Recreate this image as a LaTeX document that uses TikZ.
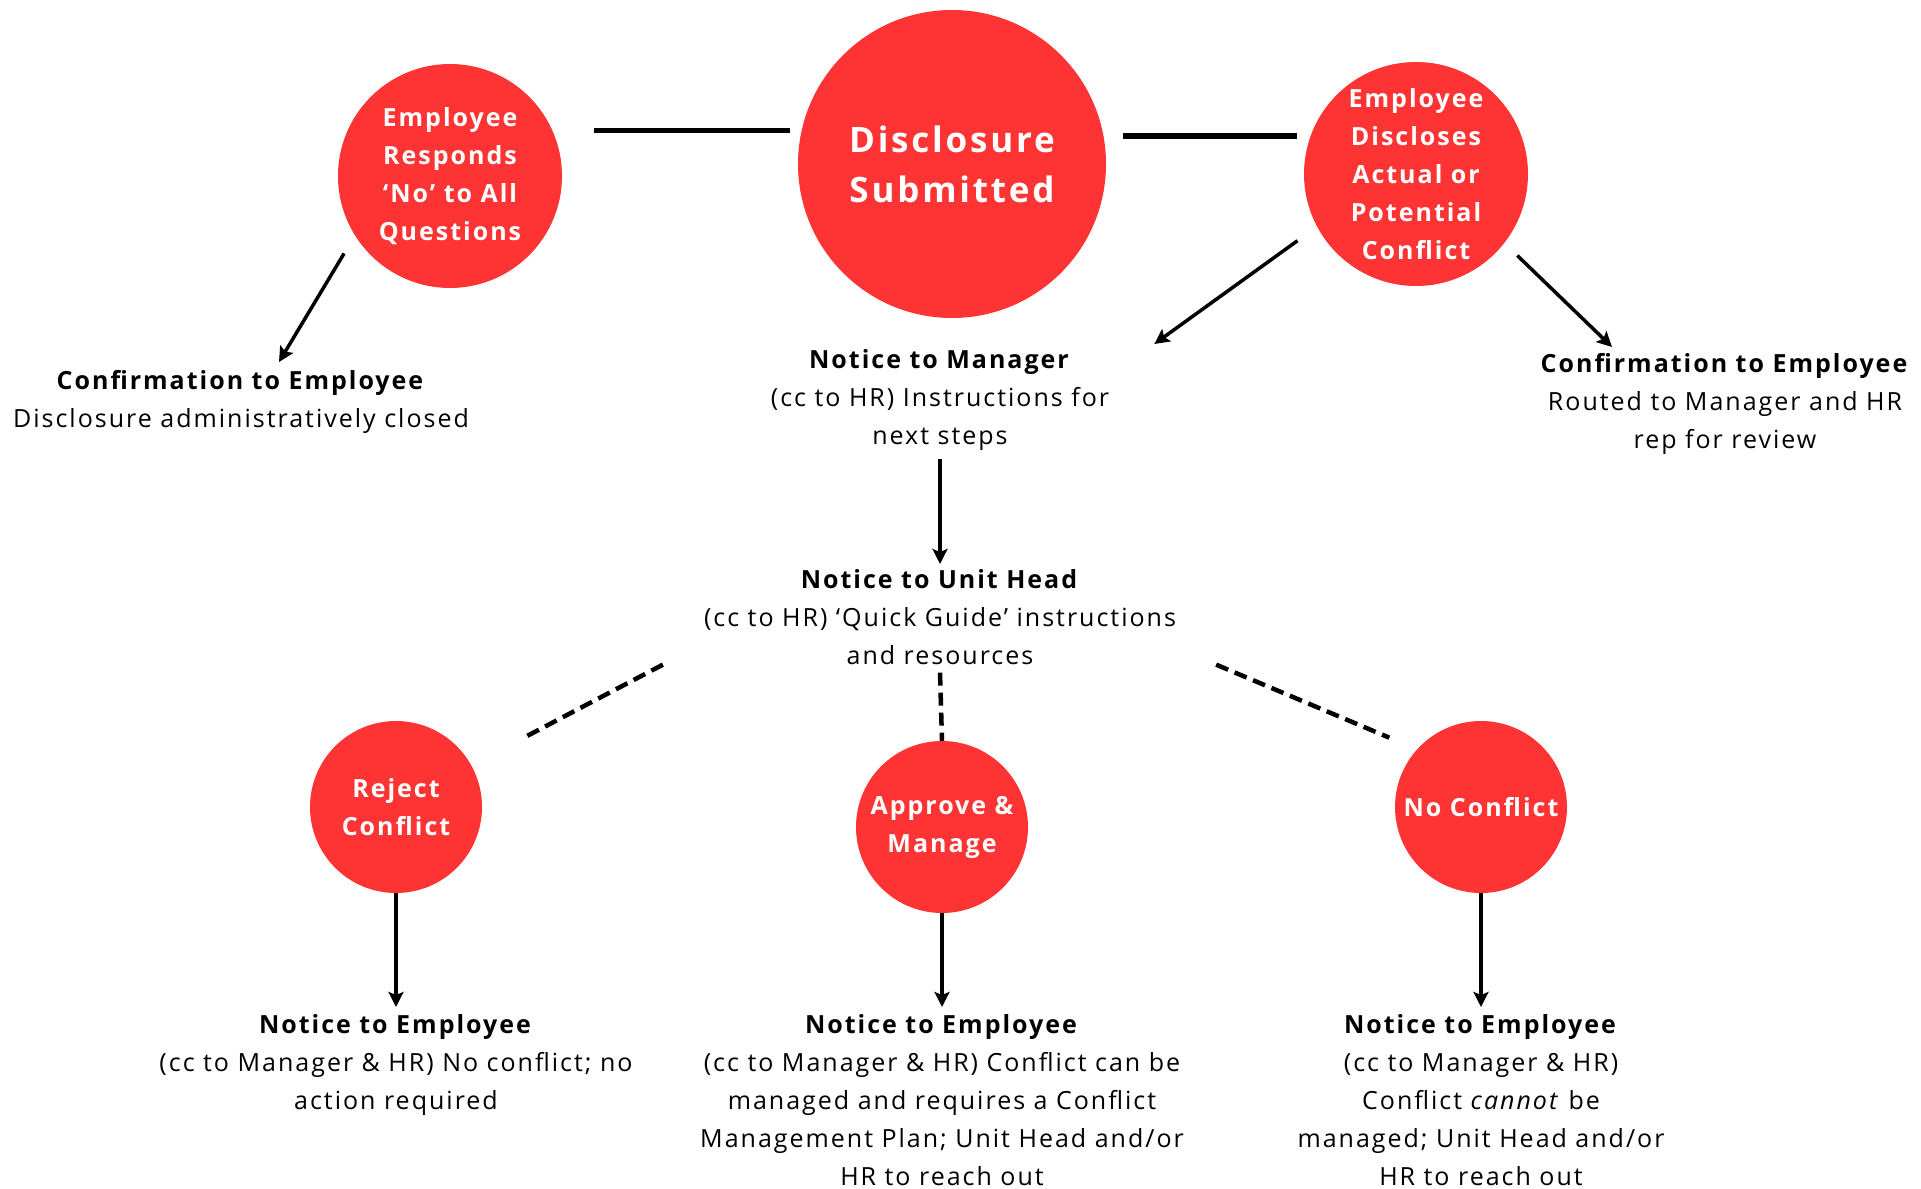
\documentclass[tikz,border=0pt]{standalone}
\usepackage{fontspec}
\setmainfont[LetterSpace=8]{Open Sans}
\usetikzlibrary{arrows.meta}
\definecolor{circred}{RGB}{254,52,52}
\tikzset{
    redball/.style={
        circle, fill=circred, draw=none, inner sep=0pt,
        text=white, align=center,
        font=\fontsize{25}{38}\selectfont\bfseries,
        minimum size=#1
    },
    redball/.default=172pt,
    notice/.style={align=center, inner sep=0pt, anchor=north, font=\fontsize{25}{38}\selectfont},
    arr/.style={line width=3.5pt, -{Stealth[length=15pt,width=15pt,inset=3pt]}},
    link/.style={line width=5pt},
    dashlink/.style={line width=4.5pt, dash pattern=on 13pt off 7pt}
}
\newcommand{\noticeText}[5] {
	\node[notice] (#1) at (#2,#3) {\textbf{#4}\\#5};
}

\begin{document}
\begin{tikzpicture}[x=1pt,y=-1pt]
		\useasboundingbox (0,0) rectangle (1921,1188);

		% Top row
		\node[redball=308pt, font=\fontsize{35}{50}\selectfont\bfseries] (disc) at (952,164) {Disclosure\\Submitted};
		\node[redball=224pt] (resp) at (450,176) {Employee\\Responds\\‘No’ to All\\Questions};
		\node[redball=224pt] (discl) at (1416,174) {Employee\\Discloses\\Actual or\\Potential\\Conflict};

		\draw[link] ([xshift=32pt,yshift=45pt]resp.east) -- ([xshift=-8pt,yshift=33pt]disc.west);
		\draw[link] ([xshift=17pt,yshift=28pt]disc.east) -- ([xshift=-7pt,yshift=38pt]discl.west);

		\noticeText{confA}{241}{370}{Confirmation to Employee}{Disclosure administratively closed}
		\noticeText{mgr}{940}{349}{Notice to Manager}{(cc to HR) Instructions for\\next steps}
		\noticeText{confB}{1725}{353}{Confirmation to Employee}{Routed to Manager and HR\\rep for review}

		\draw[arr, shorten <=21pt] (resp.212) -- ([xshift=38pt,yshift=8pt]confA.north);
		\draw[arr, shorten <=24pt] (discl.208) -- ([xshift=45pt,yshift=5pt]mgr.north east);
		\draw[arr, shorten <=18pt] (discl.322) -- ([xshift=-113pt,yshift=6pt]confB.north);

		% Unit head
		\noticeText{unit}{940}{569}{Notice to Unit Head}{(cc to HR) ‘Quick Guide’ instructions\\and resources}
		\draw[arr] ([yshift=-9pt]mgr.south) -- ([yshift=5pt]unit.north);

		% Outcomes
		\node[redball] (rej) at (396,807) {Reject\\Conflict};
		\node[redball] (appr) at (942,827) {Approve \&\\Manage};
		\node[redball] (nocon) at (1481,807) {No Conflict};

		\draw[dashlink, shorten >=59pt] ([xshift=-41pt]unit.south west) -- (rej.29);
		\draw[dashlink] ([yshift=-8pt]unit.south) -- (appr.north);
		\draw[dashlink, shorten >=30pt] ([xshift=40pt]unit.south east) -- (nocon.138);

		\noticeText{empA}{396}{1014}{Notice to Employee}{(cc to Manager \& HR) No conflict; no\\action required}
		\noticeText{empB}{942}{1014}{Notice to Employee}{(cc to Manager \& HR) Conflict can be\\managed and requires a Conflict\\Management Plan; Unit Head and/or\\HR to reach out}
		\noticeText{empC}{1481}{1014}{Notice to Employee}{(cc to Manager \& HR)\\Conflict \textit{cannot} be\\managed; Unit Head and/or\\HR to reach out}

		\draw[arr] (rej.south) -- ([yshift=7pt]empA.north);
		\draw[arr] (appr.south) -- ([yshift=7pt]empB.north);
		\draw[arr] (nocon.south) -- ([yshift=7pt]empC.north);

	\end{tikzpicture}
\end{document}
